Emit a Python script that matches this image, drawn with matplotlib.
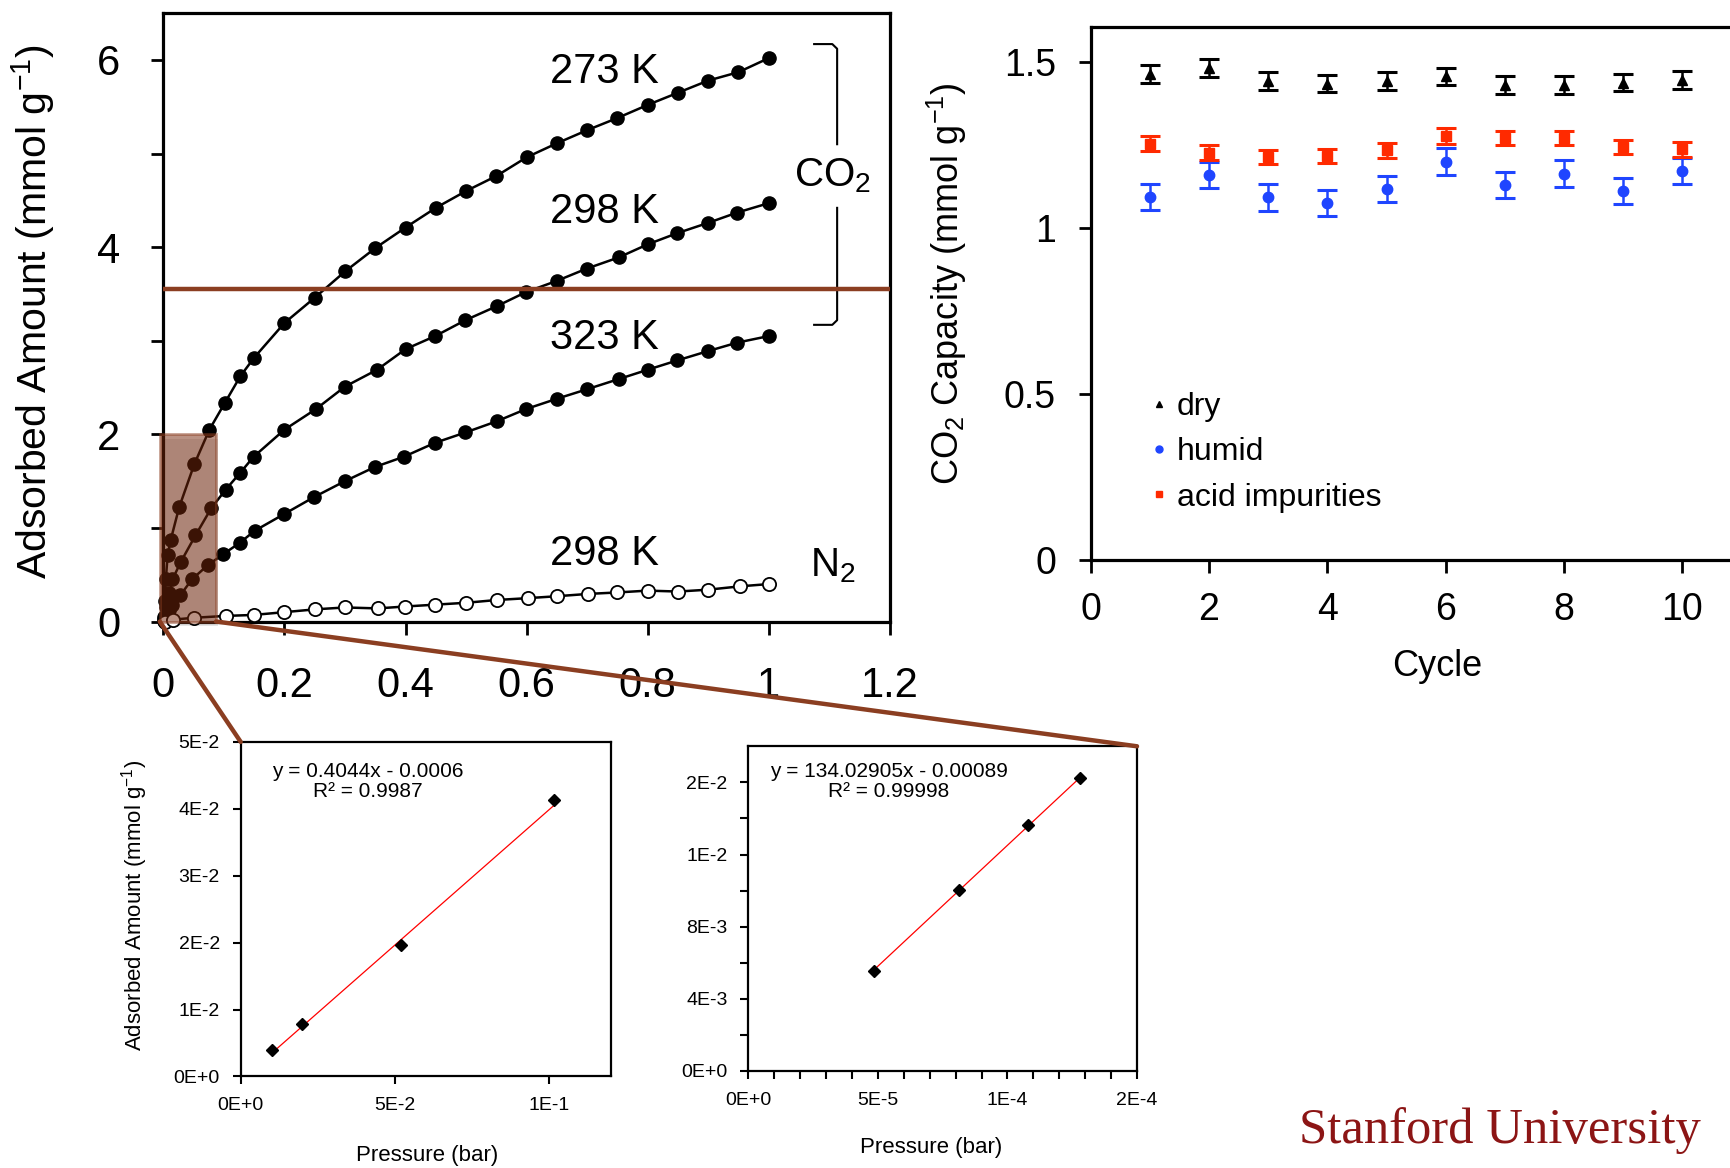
import numpy as np
import matplotlib
matplotlib.use('Agg')
import matplotlib.pyplot as plt
from matplotlib.patches import Rectangle, ConnectionPatch
from matplotlib.lines import Line2D

plt.rcParams['font.family'] = ['Liberation Sans', 'DejaVu Sans']
plt.rcParams['mathtext.fontset'] = 'custom'
plt.rcParams['mathtext.rm'] = 'Liberation Sans'
plt.rcParams['mathtext.it'] = 'Liberation Sans:italic'
plt.rcParams['mathtext.default'] = 'regular'

# CO2 / N2 isotherms (bar, mmol/g)
p_273 = [0.0005, 0.002, 0.004, 0.007, 0.012, 0.026, 0.051, 0.076, 0.101, 0.127, 0.15,
         0.2, 0.25, 0.3, 0.35, 0.4, 0.45, 0.5, 0.55, 0.6, 0.65, 0.7, 0.75, 0.8, 0.85, 0.9, 0.95, 1.0]
q_273 = [0.05, 0.22, 0.45, 0.71, 0.87, 1.22, 1.68, 2.05, 2.33, 2.62, 2.82,
         3.19, 3.46, 3.74, 3.99, 4.21, 4.42, 4.60, 4.76, 4.96, 5.11, 5.25, 5.38, 5.52, 5.65, 5.78, 5.87, 6.02]
p_298 = [0.001, 0.005, 0.01, 0.015, 0.029, 0.053, 0.079, 0.103, 0.127, 0.149, 0.2, 0.252,
         0.3, 0.353, 0.4, 0.449, 0.499, 0.551, 0.599, 0.65, 0.699, 0.752, 0.8, 0.849, 0.9, 0.948, 1.0]
q_298 = [0.03, 0.15, 0.3, 0.45, 0.64, 0.92, 1.21, 1.41, 1.59, 1.76, 2.05, 2.27,
         2.51, 2.69, 2.91, 3.05, 3.22, 3.37, 3.52, 3.64, 3.77, 3.89, 4.03, 4.15, 4.26, 4.37, 4.47]
p_323 = [0.001, 0.005, 0.01, 0.015, 0.028, 0.047, 0.073, 0.099, 0.126, 0.151, 0.2, 0.249,
         0.3, 0.349, 0.397, 0.449, 0.499, 0.551, 0.599, 0.65, 0.699, 0.752, 0.8, 0.849, 0.9, 0.948, 1.0]
q_323 = [0.01, 0.06, 0.12, 0.18, 0.28, 0.45, 0.60, 0.72, 0.84, 0.97, 1.15, 1.33,
         1.50, 1.65, 1.76, 1.91, 2.02, 2.14, 2.27, 2.38, 2.48, 2.59, 2.69, 2.79, 2.89, 2.98, 3.05]
p_n2 = [0.002, 0.016, 0.051, 0.104, 0.149, 0.2, 0.251, 0.3, 0.354, 0.399, 0.449, 0.5,
        0.551, 0.603, 0.65, 0.702, 0.749, 0.8, 0.85, 0.9, 0.953, 1.0]
q_n2 = [0.0, 0.02, 0.04, 0.06, 0.07, 0.10, 0.13, 0.15, 0.14, 0.16, 0.18, 0.20,
        0.23, 0.25, 0.27, 0.295, 0.31, 0.33, 0.32, 0.34, 0.376, 0.40]
labels_k = ['273 K', '298 K', '323 K', '298 K']
label_y = [5.87, 4.38, 3.03, 0.72]
cut_line_y = 3.55

# cycling data
cycles = [1, 2, 3, 4, 5, 6, 7, 8, 9, 10]
cap_dry = [1.462, 1.482, 1.442, 1.434, 1.442, 1.456, 1.429, 1.429, 1.437, 1.445]
err_dry = [0.027, 0.027, 0.026, 0.026, 0.026, 0.026, 0.027, 0.027, 0.026, 0.026]
cap_humid = [1.092, 1.159, 1.091, 1.075, 1.117, 1.199, 1.129, 1.163, 1.110, 1.171]
err_humid = [0.039, 0.039, 0.040, 0.040, 0.040, 0.040, 0.040, 0.040, 0.040, 0.040]
cap_acid = [1.253, 1.226, 1.213, 1.216, 1.233, 1.276, 1.270, 1.270, 1.243, 1.236]
err_acid = [0.023, 0.023, 0.022, 0.022, 0.022, 0.024, 0.022, 0.022, 0.022, 0.022]

# low pressure insets
n2_p_low = [0.0100, 0.0198, 0.0519, 0.1017]
n2_q_low = [0.0039, 0.0079, 0.0196, 0.0413]
n2_fit = (0.4044, -0.0006)
co2_p_low = [4.835e-5, 8.13e-5, 1.081e-4, 1.280e-4]
co2_q_low = [0.00552, 0.01002, 0.01363, 0.01624]
co2_fit = (134.02905, -0.00089)

main_xticks = [0, 0.2, 0.4, 0.6, 0.8, 1.0, 1.2]
main_xlabels = ['0', '0.2', '0.4', '0.6', '0.8', '1', '1.2']
main_yticks = [0, 2, 4, 6]
main_ylabels = ['0', '2', '4', '6']
cyc_xticks = [0, 2, 4, 6, 8, 10]
cyc_xlabels = ['0', '2', '4', '6', '8', '10']
cyc_yticks = [0, 0.5, 1.0, 1.5]
cyc_ylabels = ['0', '0.5', '1', '1.5']
in1_xticks = [0, 0.05, 0.1]
in1_xlabels = ['0E+0', '5E-2', '1E-1']
in1_yticks = [0, 0.01, 0.02, 0.03, 0.04, 0.05]
in1_ylabels = ['0E+0', '1E-2', '2E-2', '3E-2', '4E-2', '5E-2']
in2_xticks = [0, 5e-5, 1e-4, 1.5e-4]
in2_xlabels = ['0E+0', '5E-5', '1E-4', '2E-4']
in2_yticks = [0, 0.004, 0.008, 0.012, 0.016]
in2_ylabels = ['0E+0', '4E-3', '8E-3', '1E-2', '2E-2']

BROWN = '#8B3E21'
W, H = 1731, 1168


def box(l, t, r, b):
    return [l / W, 1 - b / H, (r - l) / W, (b - t) / H]


fig = plt.figure(figsize=(W / 100, H / 100), dpi=100)

# ---- main isotherm plot
ax = fig.add_axes(box(163.4, 13.2, 889.8, 621.5))
for p, q in [(p_273, q_273), (p_298, q_298), (p_323, q_323)]:
    ax.plot(p, q, '-o', color='black', lw=1.8, ms=9.5, clip_on=False, zorder=3)
ax.plot(p_n2, q_n2, '-o', color='black', mfc='white', mec='black', mew=1.3,
        lw=1.8, ms=9.5, clip_on=False, zorder=3)
ax.set_xlim(0, 1.2)
ax.set_ylim(0, 6.5)
ax.set_xticks(main_xticks)
ax.set_xticklabels(main_xlabels)
ax.set_yticks(main_yticks)
ax.set_yticklabels(main_ylabels)
ax.set_yticks([1, 3, 5], minor=True)
ax.tick_params(axis='both', which='both', direction='out', length=9, width=2, labelsize=30)
ax.tick_params(axis='x', pad=23)
ax.tick_params(axis='y', pad=22)
for s in ax.spines.values():
    s.set_linewidth(2.3)

for t, y in zip(labels_k, label_y):
    ax.text(0.728, y, t, fontsize=30, ha='center', va='center')
ax.text(1.106, 4.76, 'CO$_2$', fontsize=29, ha='center', va='center')
ax.text(1.106, 0.60, 'N$_2$', fontsize=29, ha='center', va='center')
# bracket
ax.plot([1.075, 1.105, 1.113, 1.113], [6.17, 6.17, 6.12, 5.10], color='black', lw=1.5)
ax.plot([1.113, 1.113, 1.105, 1.075], [4.42, 3.22, 3.17, 3.17], color='black', lw=1.5)

ax.axhline(cut_line_y, color=BROWN, lw=3.2, zorder=4)
zoom_x = (-0.006, 0.087)
zoom_y = (0, 2)
# soft shadow + tinted zoom box
ax.add_patch(Rectangle((zoom_x[0] + 0.004, zoom_y[0] - 0.05), zoom_x[1] - zoom_x[0], zoom_y[1] - zoom_y[0],
                       facecolor='#999999', alpha=0.25, edgecolor='none', zorder=2, clip_on=False))
ax.add_patch(Rectangle((zoom_x[0], zoom_y[0]), zoom_x[1] - zoom_x[0], zoom_y[1] - zoom_y[0],
                       facecolor='#76270A', alpha=0.5, edgecolor=BROWN, lw=2, zorder=5, clip_on=False))
fig.text(33 / W, 1 - 312 / H, 'Adsorbed Amount (mmol g$^{-1}$)', rotation=90,
         fontsize=29.5, ha='center', va='center')

# ---- cycling plot
ax_c = fig.add_axes(box(1090.7, 26.5, 1090.7 + 710, 559.7))
ax_c.errorbar(cycles, cap_dry, yerr=err_dry, fmt='^', color='black', ms=7.5,
              capsize=7, elinewidth=1.8, capthick=2.2)
ax_c.errorbar(cycles, cap_humid, yerr=err_humid, fmt='o', color='#1F45FF', ms=7.5,
              capsize=7, elinewidth=1.8, capthick=2.2)
ax_c.errorbar(cycles, cap_acid, yerr=err_acid, fmt='s', color='#FF2A00', ms=7,
              capsize=7, elinewidth=1.8, capthick=2.2)
ax_c.set_xlim(0, 12)
ax_c.set_ylim(0, 1.606)
ax_c.set_xticks(cyc_xticks)
ax_c.set_xticklabels(cyc_xlabels)
ax_c.set_yticks(cyc_yticks)
ax_c.set_yticklabels(cyc_ylabels)
ax_c.tick_params(direction='out', length=9, width=2, labelsize=27)
ax_c.tick_params(axis='x', pad=14)
ax_c.tick_params(axis='y', pad=16)
for s in ax_c.spines.values():
    s.set_linewidth(2.3)
ax_c.spines['right'].set_visible(False)
handles = [Line2D([], [], ls='none', marker='^', color='black', ms=5),
           Line2D([], [], ls='none', marker='o', color='#1F45FF', ms=5),
           Line2D([], [], ls='none', marker='s', color='#FF2A00', ms=5)]
ax_c.legend(handles, ['dry', 'humid', 'acid impurities'], loc='center left',
            bbox_to_anchor=(0.0827, 0.2016), frameon=False, fontsize=23,
            handlelength=0.6, handletextpad=0.26, labelspacing=0.48, borderpad=0,
            borderaxespad=0)
fig.text(947 / W, 1 - 284 / H, 'CO$_2$ Capacity (mmol g$^{-1}$)', rotation=90,
         fontsize=26, ha='center', va='center')
fig.text(1437 / W, 1 - 667 / H, 'Cycle', fontsize=26, ha='center', va='center')

# ---- inset 1 (N2 low pressure)
ax1 = fig.add_axes(box(240.7, 741.9, 610.5, 1076.4))
ax1.plot(n2_p_low, n2_q_low, 'D', color='black', ms=6, zorder=3)
xs = np.array([n2_p_low[0], n2_p_low[-1]])
ax1.plot(xs, n2_fit[0] * xs + n2_fit[1], color='red', lw=0.9)
ax1.set_xlim(0, 0.12)
ax1.set_ylim(0, 0.05)
ax1.set_xticks(in1_xticks)
ax1.set_xticklabels(in1_xlabels)
ax1.set_yticks(in1_yticks)
ax1.set_yticklabels(in1_ylabels)
ax1.tick_params(direction='out', length=6, width=1.5, labelsize=14, pad=9)
for s in ax1.spines.values():
    s.set_linewidth(1.6)
ax1.text(0.343, 0.881, 'y = 0.4044x - 0.0006\nR² = 0.9987', transform=ax1.transAxes,
         fontsize=15, ha='center', va='center', multialignment='center', linespacing=1.05)
fig.text(427 / W, 1 - 1156 / H, 'Pressure (bar)', fontsize=16, ha='center', va='center')
fig.text(134.7 / W, 1 - 905 / H, 'Adsorbed Amount (mmol g$^{-1}$)', rotation=90,
         fontsize=16, ha='center', va='center')

# ---- inset 2 (CO2 low pressure)
ax2 = fig.add_axes(box(748.5, 746.3, 1137, 1070.9))
ax2.plot(co2_p_low, co2_q_low, 'D', color='black', ms=6, zorder=3)
xs = np.array([co2_p_low[0], co2_p_low[-1]])
ax2.plot(xs, co2_fit[0] * xs + co2_fit[1], color='red', lw=0.9)
ax2.set_xlim(0, 1.5e-4)
ax2.set_ylim(0, 0.018)
ax2.set_xticks(in2_xticks)
ax2.set_xticklabels(in2_xlabels)
ax2.set_yticks(in2_yticks)
ax2.set_yticklabels(in2_ylabels)
ax2.set_xticks(np.arange(0, 1.5e-4, 1e-5), minor=True)
ax2.set_yticks(np.arange(0.002, 0.018, 0.004), minor=True)
ax2.tick_params(which='both', direction='out', length=6, width=1.5, labelsize=14, pad=9)
for s in ax2.spines.values():
    s.set_linewidth(1.6)
ax2.text(0.361, 0.891, 'y = 134.02905x - 0.00089\nR² = 0.99998', transform=ax2.transAxes,
         fontsize=15, ha='center', va='center', multialignment='center', linespacing=1.05)
fig.text(930.7 / W, 1 - 1148 / H, 'Pressure (bar)', fontsize=16, ha='center', va='center')

# connector lines from zoom box to the insets
con1 = ConnectionPatch(xyA=(zoom_x[0], 0), coordsA=ax.transData, xyB=(0, 1),
                       coordsB=ax1.transAxes, color=BROWN, lw=3.2, zorder=10)
con2 = ConnectionPatch(xyA=(zoom_x[1], 0), coordsA=ax.transData, xyB=(1, 1),
                       coordsB=ax2.transAxes, color=BROWN, lw=3.2, zorder=10)
fig.add_artist(con1)
fig.add_artist(con2)

fig.text(1500 / W, 1 - 1131 / H, 'Stanford University', fontsize=36.5, color='#8C1515',
         family=['Liberation Serif', 'DejaVu Serif'], ha='center', va='center')

fig.savefig('out.png', dpi=100)
